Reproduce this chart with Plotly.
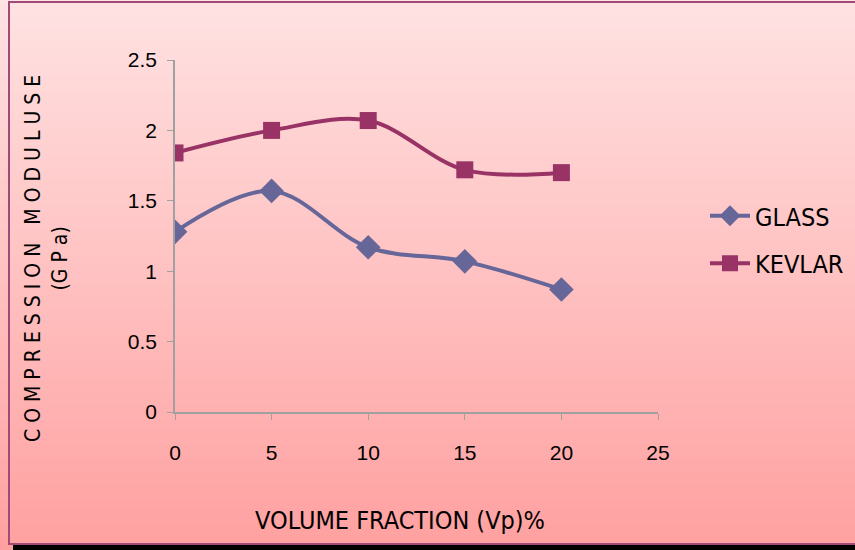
import plotly.graph_objects as go

volume_fraction = [0, 5, 10, 15, 20]
glass = [1.28, 1.57, 1.17, 1.07, 0.87]
kevlar = [1.84, 2.00, 2.07, 1.72, 1.70]
x_ticks = [0, 5, 10, 15, 20, 25]
y_ticks = [0, 0.5, 1, 1.5, 2, 2.5]

W, H = 855, 550
L, R, T, B = 175, 197, 60, 138
PW, PH = W - L - R, H - T - B
COND = "DejaVu Sans Condensed, Liberation Sans Narrow, Arial Narrow, sans-serif"
SANS = "Liberation Sans, Arial, sans-serif"


def xp(px):
    return (px - L) / PW


def yp(py):
    return (H - B - py) / PH


fig = go.Figure()
fig.add_trace(go.Scatter(
    x=volume_fraction, y=glass, name="GLASS", mode="lines+markers",
    line=dict(color="#666699", width=4, shape="spline"),
    marker=dict(symbol="diamond", size=19, color="#666699"),
    legendgroup="g1",
))
fig.add_trace(go.Scatter(
    x=volume_fraction, y=kevlar, name="KEVLAR", mode="lines+markers",
    line=dict(color="#993366", width=4, shape="spline"),
    marker=dict(symbol="square", size=17, color="#993366"),
    legendgroup="g2",
))

# background gradient strips across the whole figure
shapes = []
n = 110
top = (255, 226, 226)
bot = (255, 160, 160)
for i in range(n):
    t = i / (n - 1)
    c = tuple(round(top[k] + (bot[k] - top[k]) * t) for k in range(3))
    shapes.append(dict(type="rect", xref="paper", yref="paper", layer="below",
                       x0=xp(-5), x1=xp(W + 5),
                       y0=yp(H * i / n - 0.5), y1=yp(H * (i + 1) / n + 0.5),
                       line=dict(width=0), fillcolor="rgb(%d,%d,%d)" % c))

fig.update_layout(
    width=W, height=H,
    margin=dict(l=L, r=R, t=T, b=B, autoexpand=False),
    paper_bgcolor="#FFE2E2",
    plot_bgcolor="white",
    font=dict(family=SANS, color="black", size=21),
    showlegend=True,
    legend=dict(x=xp(705), y=yp(193), xanchor="left", yanchor="top",
                bgcolor="rgba(0,0,0,0)", font=dict(family=COND, size=25),
                tracegroupgap=12, itemwidth=40),
    xaxis=dict(range=[0, 25], tickvals=x_ticks, ticks="outside", ticklen=6,
               tickcolor="#A0A0A0", showline=True, linecolor="#A0A0A0", linewidth=1.5,
               showgrid=False, zeroline=False, ticklabelstandoff=15,
               tickfont=dict(size=21)),
    yaxis=dict(range=[0, 2.5], tickvals=y_ticks, ticks="outside", ticklen=6,
               tickcolor="#A0A0A0", showline=True, linecolor="#A0A0A0", linewidth=1.5,
               showgrid=False, zeroline=False, ticklabelstandoff=6,
               tickfont=dict(size=21)),
    annotations=[
        dict(text="VOLUME FRACTION (Vp)%", xref="paper", yref="paper",
             x=xp(400), y=yp(520), showarrow=False,
             xanchor="center", yanchor="middle", font=dict(family=COND, size=25)),
        dict(text="C O M P R E S S I O N   M O D U L U S E<br>(G P a)",
             xref="paper", yref="paper", x=xp(46), y=yp(259),
             showarrow=False, textangle=-90, xanchor="center", yanchor="middle",
             font=dict(family=COND, size=21)),
    ],
    shapes=shapes + [
        dict(type="rect", xref="paper", yref="paper", layer="above",
             x0=xp(13), x1=xp(W + 10), y0=yp(545), y1=yp(H + 2),
             line=dict(width=0), fillcolor="black"),
        dict(type="rect", xref="paper", yref="paper", layer="above",
             x0=xp(9), x1=xp(W + 10), y0=yp(544), y1=yp(2),
             line=dict(width=2, color="#A04A78"), fillcolor="rgba(0,0,0,0)"),
    ],
)

fig.write_html("out.html", config={"displayModeBar": False},
               post_script="document.body.style.margin='0';")
